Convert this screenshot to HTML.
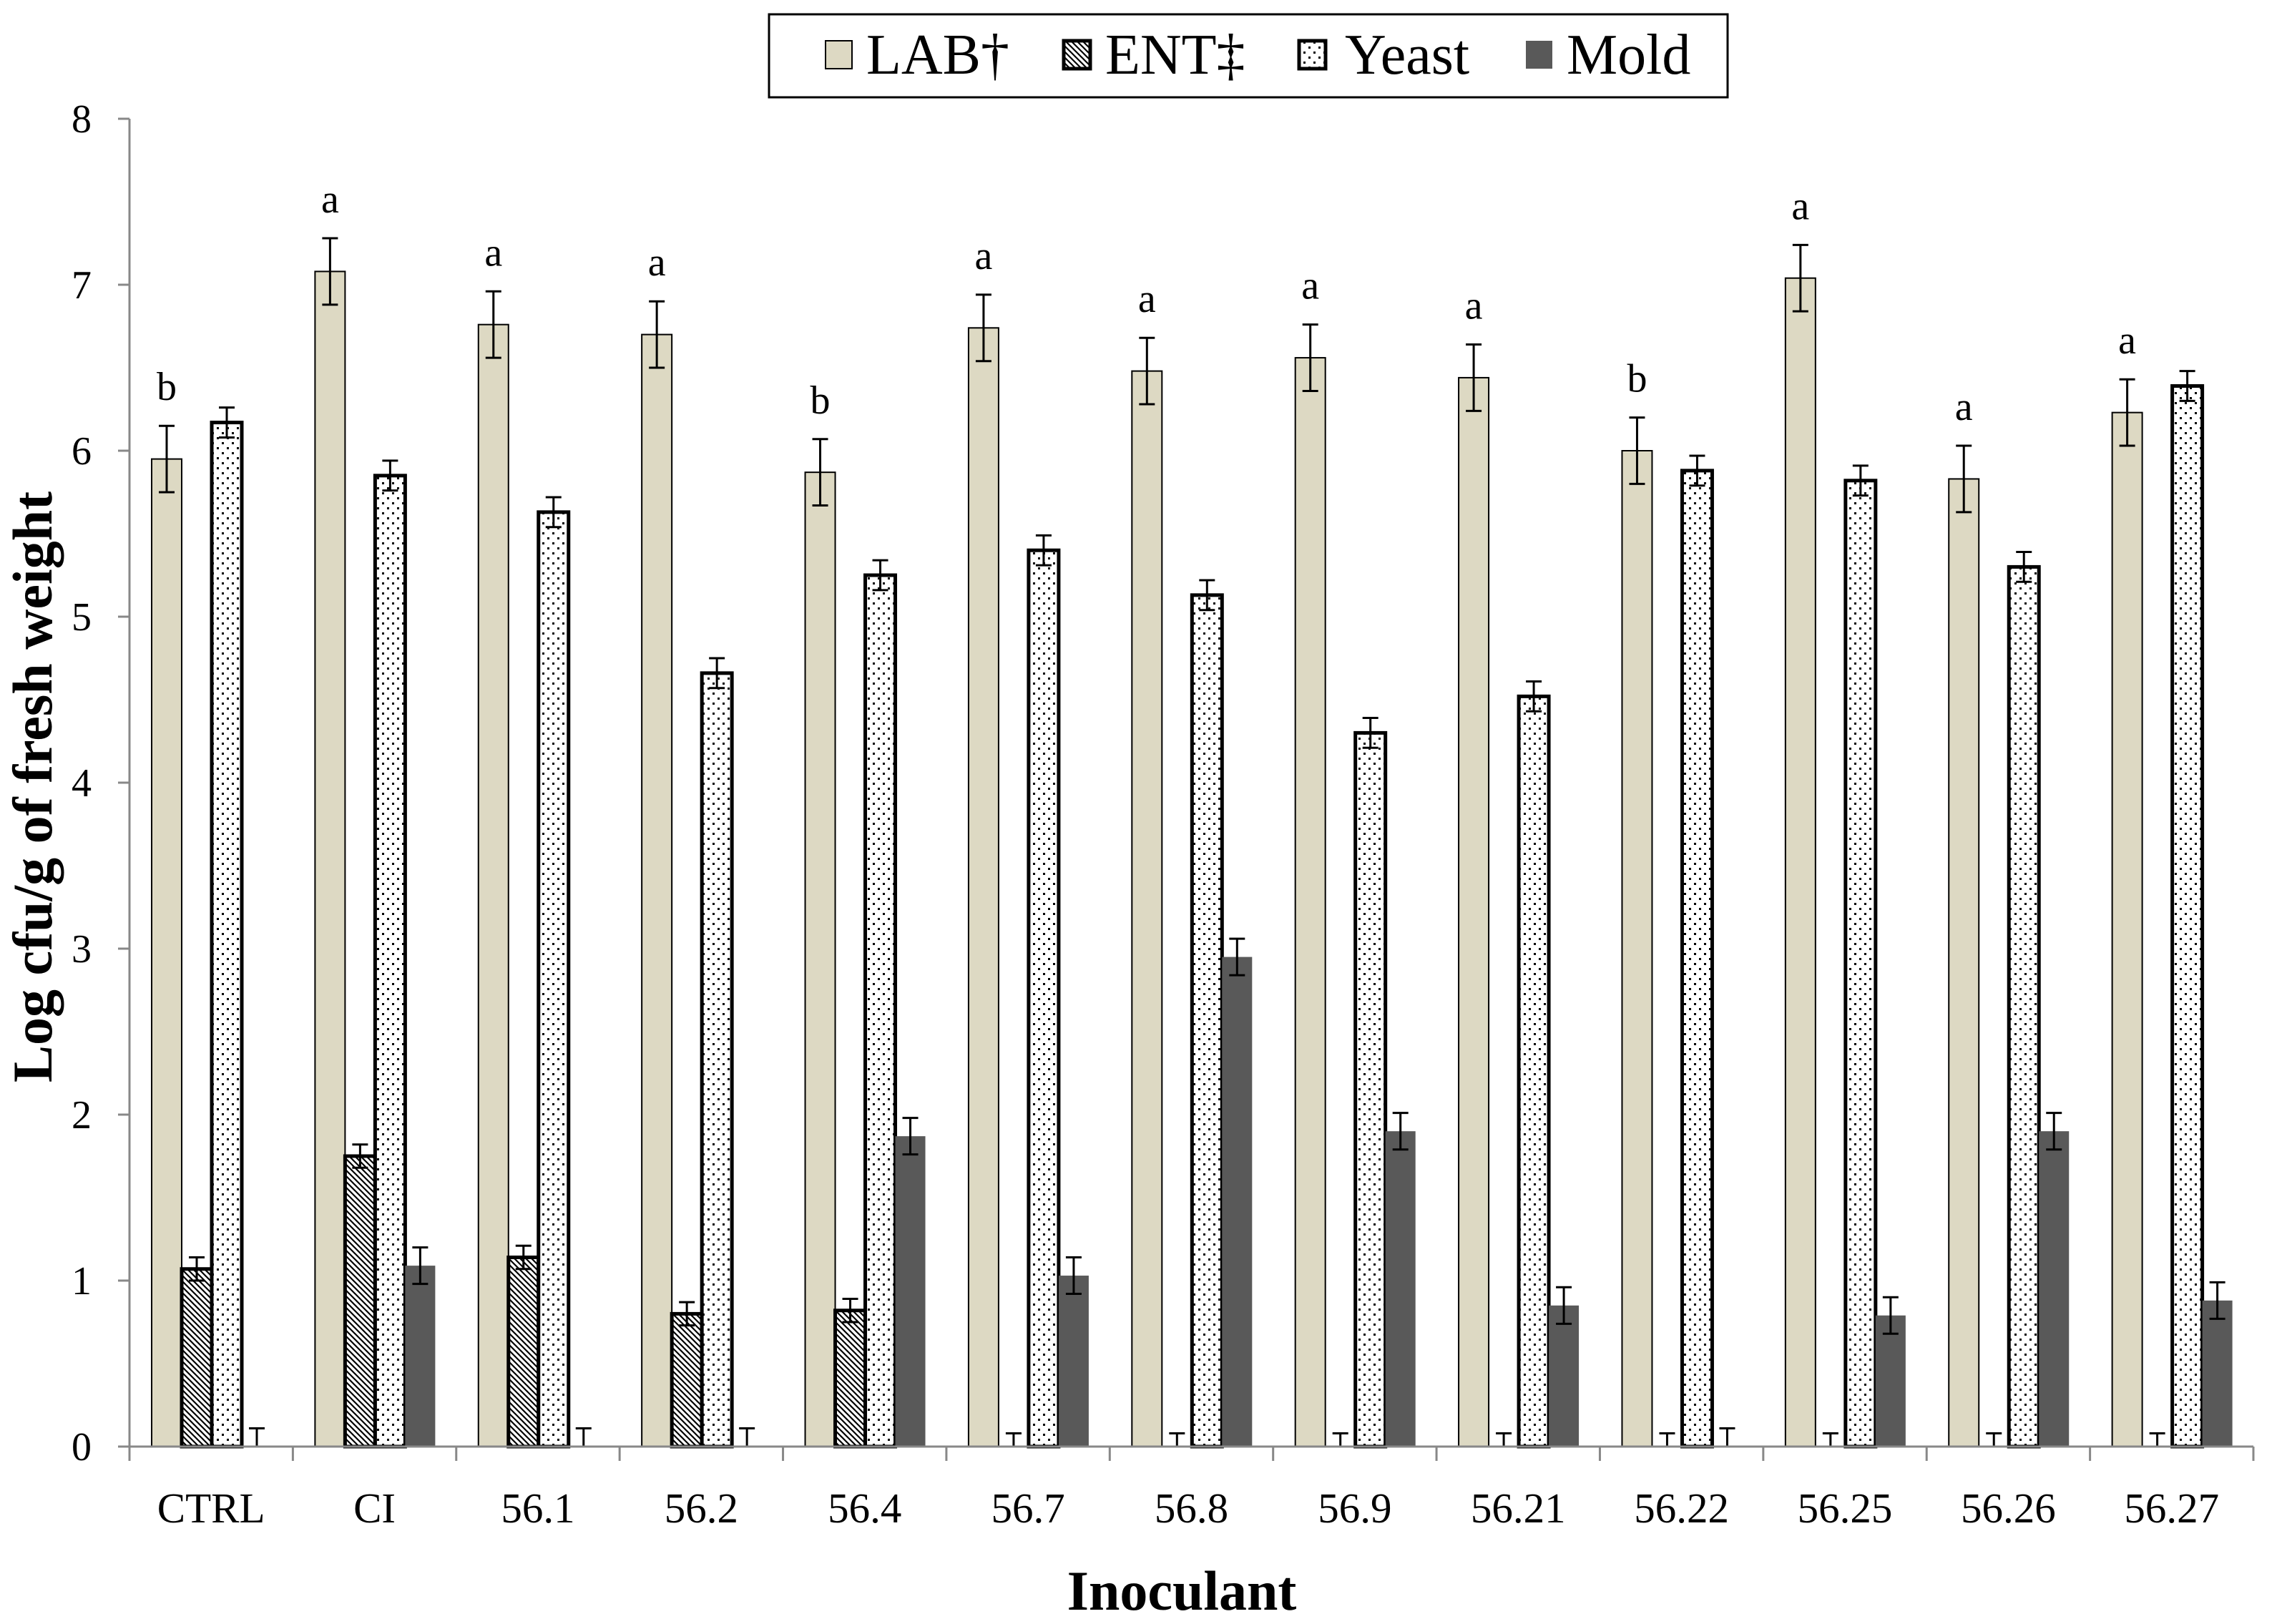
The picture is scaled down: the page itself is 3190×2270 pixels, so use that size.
<!DOCTYPE html>
<html><head><meta charset="utf-8"><style>
html,body{margin:0;padding:0;background:#fff}
svg{display:block}
text{font-family:"Liberation Serif",serif}
</style></head><body>
<svg id="chart" width="3190" height="2270" viewBox="0 0 3190 2270" xmlns="http://www.w3.org/2000/svg">
<defs>
<pattern id="hatch" patternUnits="userSpaceOnUse" width="8" height="8">
<rect width="8" height="8" fill="#fff"/>
<path d="M-2,-2 L10,10 M-2,6 L2,10 M6,-2 L10,2" stroke="#000" stroke-width="2.2"/>
</pattern>
<pattern id="dots" patternUnits="userSpaceOnUse" width="14" height="14">
<rect width="14" height="14" fill="#fff"/>
<rect x="2" y="2" width="3" height="3" fill="#000"/>
<rect x="9" y="9" width="3" height="3" fill="#000"/>
</pattern>
</defs>
<g id="legend">
<rect x="1075" y="20" width="1340" height="116" fill="#fff" stroke="#000" stroke-width="3"/>
<g><rect x="1154" y="57" width="37" height="39" fill="#ddd9c3" stroke="#000" stroke-width="2"/><text x="1211" y="103" font-size="80">LAB†</text></g>
<g><rect x="1487" y="57" width="37" height="39" fill="url(#hatch)" stroke="#000" stroke-width="5"/><text x="1545" y="103" font-size="80">ENT‡</text></g>
<g><rect x="1816" y="57" width="37" height="39" fill="url(#dots)" stroke="#000" stroke-width="5"/><text x="1880" y="103" font-size="80">Yeast</text></g>
<g><rect x="2133" y="57" width="37" height="39" fill="#595959"/><text x="2190" y="103" font-size="80">Mold</text></g>
</g>
<g id="plot"></g>
<text transform="translate(72,1100) rotate(-90)" text-anchor="middle" font-size="78" font-weight="bold">Log cfu/g of  fresh weight</text>
<text x="1652" y="2250" text-anchor="middle" font-size="78" font-weight="bold">Inoculant</text>
</svg>
<script>
const categories=["CTRL","CI","56.1","56.2","56.4","56.7","56.8","56.9","56.21","56.22","56.25","56.26","56.27"];
const labValues=[5.95,7.08,6.76,6.70,5.87,6.74,6.48,6.56,6.44,6.00,7.04,5.83,6.23];
const labErr=[0.2,0.2,0.2,0.2,0.2,0.2,0.2,0.2,0.2,0.2,0.2,0.2,0.2];
const entValues=[1.07,1.75,1.14,0.80,0.82,0,0,0,0,0,0,0,0];
const entErr=[0.07,0.07,0.07,0.07,0.07,0.08,0.08,0.08,0.08,0.08,0.08,0.08,0.08];
const yeastValues=[6.17,5.85,5.63,4.66,5.25,5.40,5.13,4.30,4.52,5.88,5.82,5.30,6.39];
const yeastErr=[0.09,0.09,0.09,0.09,0.09,0.09,0.09,0.09,0.09,0.09,0.09,0.09,0.09];
const moldValues=[0,1.09,0,0,1.87,1.03,2.95,1.90,0.85,0,0.79,1.90,0.88];
const moldErr=[0.11,0.11,0.11,0.11,0.11,0.11,0.11,0.11,0.11,0.11,0.11,0.11,0.11];
const letters=["b","a","a","a","b","a","a","a","a","b","a","a","a"];
const yTicks=[0,1,2,3,4,5,6,7,8];

const NS="http://www.w3.org/2000/svg";
const g=document.getElementById("plot");
const X0=181,X1=3150,Y0=2022,Y8=166;
const groupW=(X1-X0)/categories.length;
const barW=42;
function y(v){return Y0-(v/8)*(Y0-Y8);}
function xBar(i,k){return X0+i*groupW+31+k*barW;}
function mk(tag,attrs,parent){const e=document.createElementNS(NS,tag);for(const a in attrs)e.setAttribute(a,attrs[a]);(parent||g).appendChild(e);return e;}

let ax=mk("line",{x1:X0,y1:Y8,x2:X0,y2:Y0,stroke:"#888","stroke-width":3});


yTicks.forEach(t=>{
  let tl=mk("line",{x1:X0-16,y1:y(t),x2:X0,y2:y(t),stroke:"#888","stroke-width":3});
  
  
  let tx=mk("text",{x:X0-53,y:y(t)+19,"text-anchor":"end","font-size":56});
  
  
  tx.textContent=t;
});

const series=[
 {vals:labValues,err:labErr,fill:"#ddd9c3",stroke:"#000",sw:2,name:"lab"},
 {vals:entValues,err:entErr,fill:"url(#hatch)",stroke:"#000",sw:5,name:"ent"},
 {vals:yeastValues,err:yeastErr,fill:"url(#dots)",stroke:"#000",sw:5,name:"yeast"},
 {vals:moldValues,err:moldErr,fill:"#595959",stroke:"none",sw:0,name:"mold"}
];
categories.forEach((c,i)=>{
  series.forEach((s,k)=>{
    const v=s.vals[i],x=xBar(i,k);
    if(v>0){
      let r=mk("rect",{x:x,y:y(v),width:barW,height:Y0-y(v),fill:s.fill,stroke:s.stroke,"stroke-width":s.sw});
      
      
    }
    const cx=x+barW/2,lo=v>0?v-s.err[i]:v,hi=v+s.err[i];
    let e=mk("path",{d:`M${cx},${y(lo)}V${y(hi)}M${cx-11},${y(hi)}H${cx+11}`+(v>0?`M${cx-11},${y(lo)}H${cx+11}`:""),stroke:"#000","stroke-width":3,fill:"none"});
    
    
  });
  const lx=xBar(i,0)+barW/2;
  let lt=mk("text",{x:lx,y:y(labValues[i]+labErr[i])-36,"text-anchor":"middle","font-size":56});
  
  
  lt.textContent=letters[i];
  let cl=mk("text",{x:X0+(i+0.5)*groupW,y:2128,"text-anchor":"middle","font-size":59});
  
  
  cl.textContent=c;
});
for(let i=0;i<=categories.length;i++){
  let t=mk("line",{x1:X0+i*groupW,y1:Y0,x2:X0+i*groupW,y2:Y0+20,stroke:"#888","stroke-width":3});
  
  
}
let xa=mk("line",{x1:X0-16,y1:Y0,x2:X1,y2:Y0,stroke:"#888","stroke-width":3});


</script>
</body></html>
